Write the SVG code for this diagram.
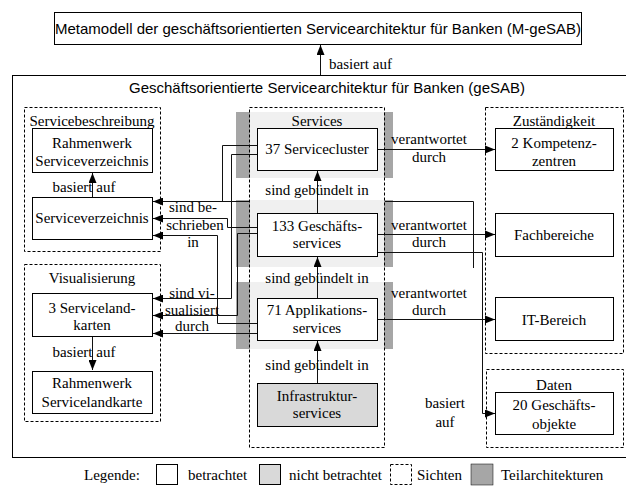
<svg xmlns="http://www.w3.org/2000/svg" width="626" height="486" viewBox="0 0 626 486">
<style>
.box{fill:#fff;stroke:#000;stroke-width:1}
.grey{fill:#d9d9d9;stroke:#000;stroke-width:1}
.view{fill:none;stroke:#000;stroke-width:1;stroke-dasharray:3 2}
.t{font-family:"Liberation Serif","Times New Roman",serif;font-size:15px;fill:#000;text-anchor:middle}
.ts{font-family:"Liberation Serif","Times New Roman",serif;font-size:15px;fill:#000}
.s{font-family:"Liberation Sans",Arial,sans-serif;font-size:15px;fill:#000;text-anchor:middle}
.c{fill:none;stroke:#111;stroke-width:1}
.band{fill:#a6a6a6}
.bandin{fill:#f0f0f0}
</style>
<defs>
<marker id="ah" markerWidth="10" markerHeight="8" refX="10" refY="4" orient="auto" markerUnits="userSpaceOnUse">
<path d="M0,0 L10,4 L0,8 z" fill="#000"/>
</marker>
</defs>
<rect width="626" height="486" fill="#fff"/>

<g id="metamodell">
<rect class="box" x="54.5" y="12.5" width="527" height="32"/>
<text class="s" x="318" y="34">Metamodell der geschäftsorientierten Servicearchitektur für Banken (M-geSAB)</text>
</g>

<g id="gesab">
<rect class="box" x="12.5" y="75.5" width="630" height="382"/>
<text class="s" x="327" y="93">Geschäftsorientierte Servicearchitektur für Banken (geSAB)</text>
</g>

<g id="teilarchitekturen">
<rect class="band" x="236" y="112" width="157" height="66"/>
<rect class="bandin" x="250" y="112" width="134" height="66"/>
<rect class="band" x="236" y="200" width="157" height="67"/>
<rect class="bandin" x="250" y="200" width="134" height="67"/>
<rect class="band" x="236" y="282" width="157" height="67"/>
<rect class="bandin" x="250" y="282" width="134" height="67"/>
</g>

<g id="connectors">
<line class="c" x1="320.5" y1="75" x2="320.5" y2="45" marker-end="url(#ah)"/>
<line class="c" x1="92.5" y1="197" x2="92.5" y2="173" marker-end="url(#ah)"/>
<line class="c" x1="92.5" y1="336" x2="92.5" y2="370" marker-end="url(#ah)"/>
<line class="c" x1="317.5" y1="213" x2="317.5" y2="171" marker-end="url(#ah)"/>
<line class="c" x1="317.5" y1="298" x2="317.5" y2="257" marker-end="url(#ah)"/>
<line class="c" x1="317.5" y1="383" x2="317.5" y2="341" marker-end="url(#ah)"/>
<polyline class="c" points="257,145.5 222.5,145.5 222.5,201.5 153,201.5" marker-end="url(#ah)"/>
<line class="c" x1="222" y1="201.5" x2="250" y2="201.5"/>
<polyline class="c" points="385,201.5 473.5,201.5 473.5,268"/>
<polyline class="c" points="257,154.5 231.5,154.5 231.5,298.5 153,298.5" marker-end="url(#ah)"/>
<polyline class="c" points="257,227.5 227.5,227.5 227.5,218.5 153,218.5" marker-end="url(#ah)"/>
<polyline class="c" points="257,233.5 237.5,233.5 237.5,315.5 153,315.5" marker-end="url(#ah)"/>
<polyline class="c" points="257,323.5 217.5,323.5 217.5,235.5 153,235.5" marker-end="url(#ah)"/>
<line class="c" x1="257" y1="333.5" x2="153" y2="333.5" marker-end="url(#ah)"/>
<line class="c" x1="377" y1="149.5" x2="495" y2="149.5" marker-end="url(#ah)"/>
<line class="c" x1="377" y1="234.5" x2="495" y2="234.5" marker-end="url(#ah)"/>
<line class="c" x1="377" y1="319.5" x2="495" y2="319.5" marker-end="url(#ah)"/>
<polyline class="c" points="377,252.5 482.5,252.5 482.5,413.5 495,413.5" marker-end="url(#ah)"/>
</g>

<g id="labels">
<text class="ts" x="329" y="69">basiert auf</text>
<text class="t" x="84" y="192">basiert auf</text>
<text class="t" x="84" y="357">basiert auf</text>
<text class="t" x="193" y="212">sind be-</text>
<text class="t" x="195" y="230">schrieben</text>
<text class="t" x="193" y="247">in</text>
<text class="t" x="192" y="298">sind vi-</text>
<text class="t" x="192" y="315">sualisiert</text>
<text class="t" x="192" y="331">durch</text>
<text class="t" x="317" y="195">sind gebündelt in</text>
<text class="t" x="317" y="283">sind gebündelt in</text>
<text class="t" x="317" y="370">sind gebündelt in</text>
<text class="t" x="429" y="144">verantwortet</text>
<text class="t" x="429" y="162">durch</text>
<text class="t" x="429" y="230">verantwortet</text>
<text class="t" x="429" y="247">durch</text>
<text class="t" x="429" y="298">verantwortet</text>
<text class="t" x="429" y="315">durch</text>
<text class="t" x="445" y="408">basiert</text>
<text class="t" x="445" y="427">auf</text>
</g>

<g id="servicebeschreibung">
<rect class="view" x="24.5" y="107.5" width="136" height="144"/>
<text class="t" x="92" y="126">Servicebeschreibung</text>
</g>
<g id="rahmenwerk-serviceverzeichnis">
<rect class="box" x="32.5" y="128.5" width="120" height="44"/>
<text class="t" x="92" y="148">Rahmenwerk</text>
<text class="t" x="92" y="166">Serviceverzeichnis</text>
</g>
<g id="serviceverzeichnis">
<rect class="box" x="32.5" y="197.5" width="120" height="42"/>
<text class="t" x="92" y="223">Serviceverzeichnis</text>
</g>

<g id="visualisierung">
<rect class="view" x="24.5" y="264.5" width="136" height="157"/>
<text class="t" x="92" y="283">Visualisierung</text>
</g>
<g id="servicelandkarten">
<rect class="box" x="32.5" y="293.5" width="120" height="43"/>
<text class="t" x="92" y="313">3 Serviceland-</text>
<text class="t" x="92" y="330">karten</text>
</g>
<g id="rahmenwerk-servicelandkarte">
<rect class="box" x="32.5" y="371.5" width="120" height="42"/>
<text class="t" x="92" y="388">Rahmenwerk</text>
<text class="t" x="92" y="407">Servicelandkarte</text>
</g>

<g id="services">
<rect class="view" x="249.5" y="107.5" width="135" height="340"/>
<text class="t" x="317" y="126">Services</text>
</g>
<g id="servicecluster">
<rect class="box" x="257.5" y="128.5" width="120" height="42"/>
<text class="t" x="317" y="154">37 Servicecluster</text>
</g>
<g id="geschaeftsservices">
<rect class="box" x="257.5" y="213.5" width="120" height="43"/>
<text class="t" x="317" y="231">133 Geschäfts-</text>
<text class="t" x="317" y="248">services</text>
</g>
<g id="applikationsservices">
<rect class="box" x="257.5" y="298.5" width="120" height="42"/>
<text class="t" x="317" y="315">71 Applikations-</text>
<text class="t" x="317" y="333">services</text>
</g>
<g id="infrastrukturservices">
<rect class="grey" x="257.5" y="383.5" width="120" height="43"/>
<text class="t" x="317" y="401">Infrastruktur-</text>
<text class="t" x="317" y="418">services</text>
</g>

<g id="zustaendigkeit">
<rect class="view" x="485.5" y="107.5" width="138" height="246"/>
<text class="t" x="554" y="126">Zuständigkeit</text>
</g>
<g id="kompetenzzentren">
<rect class="box" x="495.5" y="128.5" width="118" height="42"/>
<text class="t" x="554" y="148">2 Kompetenz-</text>
<text class="t" x="554" y="166">zentren</text>
</g>
<g id="fachbereiche">
<rect class="box" x="495.5" y="213.5" width="118" height="43"/>
<text class="t" x="554" y="240">Fachbereiche</text>
</g>
<g id="it-bereich">
<rect class="box" x="495.5" y="297.5" width="118" height="43"/>
<text class="t" x="554" y="325">IT-Bereich</text>
</g>
<g id="daten">
<rect class="view" x="486.5" y="369.5" width="137" height="78"/>
<text class="t" x="554" y="390">Daten</text>
</g>
<g id="geschaeftsobjekte">
<rect class="box" x="495.5" y="392.5" width="118" height="42"/>
<text class="t" x="554" y="410">20 Geschäfts-</text>
<text class="t" x="554" y="429">objekte</text>
</g>

<g id="legende">
<text class="ts" x="84" y="480">Legende:</text>
<rect class="box" x="156.5" y="464.5" width="21" height="20"/>
<text class="ts" x="188" y="480">betrachtet</text>
<rect class="grey" x="259.5" y="464.5" width="21" height="20"/>
<text class="ts" x="289" y="480">nicht betrachtet</text>
<rect class="view" x="390.5" y="464.5" width="21" height="20"/>
<text class="ts" x="417" y="480">Sichten</text>
<rect x="471" y="464" width="22" height="21" fill="#a6a6a6" stroke="#000" stroke-width="0.5"/>
<text class="ts" x="501" y="480">Teilarchitekturen</text>
</g>
</svg>
